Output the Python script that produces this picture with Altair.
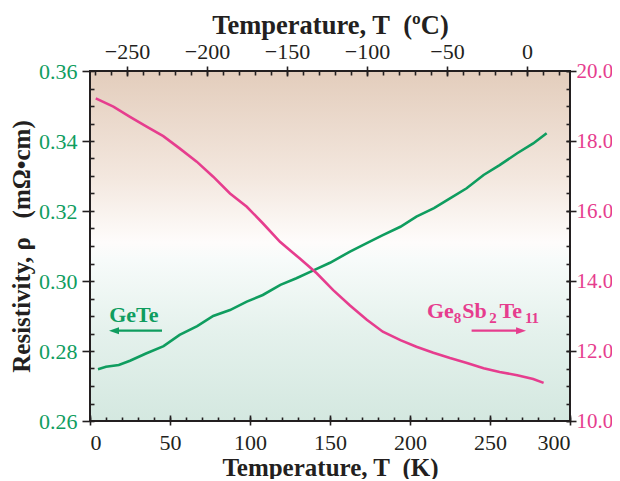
import altair as alt
import pandas as pd

# ---------------- data ----------------
kelvin_major = [0, 50, 100, 150, 200, 250, 300]
kelvin_minor = list(range(0, 301, 10))
celsius_major = [-250, -200, -150, -100, -50, 0]
celsius_minor = list(range(-270, 21, 10))
left_major = [0.26, 0.28, 0.30, 0.32, 0.34, 0.36]
left_minor = [round(0.26 + 0.005 * i, 3) for i in range(21)]
right_major = [10.0, 12.0, 14.0, 16.0, 18.0, 20.0]
right_minor = [round(10 + 0.5 * i, 1) for i in range(21)]

green_K = [5, 10, 18, 25, 35, 46, 56, 67, 77, 87.5, 98, 108, 119, 129, 140,
           150, 162.5, 173, 183, 194, 204, 215, 225, 235.4, 246, 256, 267, 277, 285.4]
green_rho = [0.2748, 0.2755, 0.2760, 0.2772, 0.2793, 0.2814, 0.2846, 0.2871, 0.2900,
             0.2917, 0.2941, 0.2960, 0.2989, 0.3008, 0.3031, 0.3052, 0.3084, 0.3108,
             0.3131, 0.3155, 0.3184, 0.3208, 0.3236, 0.3265, 0.3303, 0.3331, 0.3365,
             0.3393, 0.3422]

pink_K = [3.6, 14.6, 25, 35.4, 45.8, 56, 66.7, 77, 87.5, 98, 108, 118.75, 127, 131.5,
          141.7, 152, 162.5, 173, 183, 194, 204, 214.6, 225, 235.6, 246, 256, 267, 277, 283.5]
pink_rho = [19.22, 18.98, 18.69, 18.41, 18.14, 17.79, 17.41, 16.98, 16.50, 16.12, 15.65,
            15.12, 14.80, 14.63, 14.22, 13.74, 13.30, 12.89, 12.55, 12.31, 12.12, 11.95,
            11.80, 11.66, 11.51, 11.40, 11.31, 11.20, 11.09]

label_text = ["GeTe", "Ge", "8", "Sb", "2", "Te", "11"]
label_K = [12.0, 210.6, 227.3, 232.6, 249.6, 256.0, 271.8]
label_rho = [0.2884, 0.2894, 0.2879, 0.2894, 0.2879, 0.2894, 0.2879]
label_size = [22, 22, 15, 22, 15, 22, 15]
label_color = ["#0f9d5f", "#e63d8e", "#e63d8e", "#e63d8e", "#e63d8e", "#e63d8e", "#e63d8e"]

arrow_K1 = [15.0, 238.5]
arrow_K2 = [45.0, 269.4]
arrow_rho = [0.2858, 0.2858]
arrow_color = ["#0f9d5f", "#e63d8e"]
arrow_shape = ["M -1 0 L 1 -0.7 L 1 0.7 Z", "M 1 0 L -1 -0.7 L -1 0.7 Z"]
arrow_tip_K = [15.0, 269.4]

GREEN = "#0f9d5f"
PINK = "#e63d8e"
INK = "#231f20"
FONT = "Liberation Serif, Times New Roman, Times, serif"

xK = alt.Scale(domain=[0, 300], nice=False, zero=False)
yL = alt.Scale(domain=[0.26, 0.36], nice=False, zero=False)
yR = alt.Scale(domain=[10, 20], nice=False, zero=False)
xC = alt.Scale(domain=[-273.15, 26.85], nice=False, zero=False)

base_axis = dict(grid=False, domain=False, zindex=1, tickColor=INK, tickWidth=1.6,
                 labelFont=FONT, titleFont=FONT,
                 titleFontWeight="bold", titleColor=INK)


def minor_axis(orient, values, inner):
    return alt.Axis(orient=orient, values=values, offset=-inner, tickSize=inner,
                    labels=False, title=None, **base_axis)


def x_axis_layer(values, scale, axis):
    df = pd.DataFrame({"v": values})
    return alt.Chart(df).mark_rule(opacity=0).encode(
        x=alt.X("v:Q", scale=scale, axis=axis))


def y_axis_layer(values, scale, axis):
    df = pd.DataFrame({"v": values})
    return alt.Chart(df).mark_rule(opacity=0).encode(
        y=alt.Y("v:Q", scale=scale, axis=axis))


bottom_major = alt.Axis(orient="bottom", values=kelvin_major, offset=-6, tickSize=10,
                        format="d", labelColor=INK, labelPadding=7, labelFontSize=22,
                        title="Temperature, T\u00a0 (K)", titleFontSize=25, titlePadding=2,
                        **base_axis)
top_major = alt.Axis(orient="top", values=celsius_major, offset=-5, tickSize=10,
                     format="d", labelColor=INK, labelPadding=3, labelFontSize=22,
                     title="Temperature, T\u00a0 (ºC)", titleFontSize=26.5, titlePadding=1,
                     **base_axis)
left_major_ax = alt.Axis(orient="left", values=left_major, offset=0, tickSize=8,
                         format=".2f", labelColor=GREEN, labelPadding=5, labelFontSize=22,
                         title="Resistivity, \u03c1\u00a0\u00a0 (m\u03a9\u2022cm)",
                         titleFontSize=25, titlePadding=4, **base_axis)
right_major_ax = alt.Axis(orient="right", values=right_major, offset=-4, tickSize=10,
                          format=".1f", labelColor=PINK, labelPadding=0, labelFontSize=21,
                          title=None, **base_axis)

# background with gradient
bg_df = pd.DataFrame({"x0": [0], "x1": [300], "y0": [0.26], "y1": [0.36]})
gradient = alt.Gradient(
    gradient="linear", x1=0, x2=0, y1=0, y2=1,
    stops=[alt.GradientStop(color="#e3cdbc", offset=0),
           alt.GradientStop(color="#f3e7de", offset=0.3),
           alt.GradientStop(color="#fefcfb", offset=0.49),
           alt.GradientStop(color="#f7fbfa", offset=0.54),
           alt.GradientStop(color="#e4f1ec", offset=0.75),
           alt.GradientStop(color="#d4e8e0", offset=1)])
bg = alt.Chart(bg_df).mark_rect(fill=gradient, stroke=INK, strokeWidth=2).encode(
    x=alt.X("x0:Q", scale=xK, axis=None),
    x2="x1:Q",
    y=alt.Y("y0:Q", scale=yL, axis=None),
    y2="y1:Q",
)

green_df = pd.DataFrame({"K": green_K, "rho": green_rho})
green = alt.Chart(green_df).mark_line(color=GREEN, strokeWidth=2.6).encode(
    x=alt.X("K:Q", scale=xK, axis=None),
    y=alt.Y("rho:Q", scale=yL, axis=None),
)

pink_df = pd.DataFrame({"K": pink_K, "rho": pink_rho})
pink = alt.Chart(pink_df).mark_line(color=PINK, strokeWidth=2.6).encode(
    x=alt.X("K:Q", scale=xK, axis=None),
    y=alt.Y("rho:Q", scale=yR, axis=None),
)

axis_layers = [
    x_axis_layer(kelvin_major, xK, bottom_major),
    x_axis_layer(kelvin_minor, xK, minor_axis("bottom", kelvin_minor, 4)),
    x_axis_layer(celsius_major, xC, top_major),
    x_axis_layer(celsius_minor, xC, minor_axis("top", celsius_minor, 4)),
    y_axis_layer(left_major, yL, left_major_ax),
    y_axis_layer(left_minor, yL, minor_axis("left", left_minor, 4)),
    y_axis_layer(right_major, yR, right_major_ax),
    y_axis_layer(right_minor, yR, minor_axis("right", right_minor, 4)),
]

lab_df = pd.DataFrame({"t": label_text, "K": label_K, "rho": label_rho,
                       "s": label_size, "c": label_color})
labels = alt.Chart(lab_df).mark_text(align="left", baseline="alphabetic", font=FONT,
                                     fontWeight="bold").encode(
    x=alt.X("K:Q", scale=xK, axis=None),
    y=alt.Y("rho:Q", scale=yL, axis=None),
    text="t:N",
    size=alt.Size("s:Q", scale=None, legend=None),
    color=alt.Color("c:N", scale=None, legend=None),
)

arr_df = pd.DataFrame({"K1": arrow_K1, "K2": arrow_K2, "rho": arrow_rho,
                       "c": arrow_color, "shape": arrow_shape, "tip": arrow_tip_K})
shafts = alt.Chart(arr_df).mark_rule(strokeWidth=2.2).encode(
    x=alt.X("K1:Q", scale=xK, axis=None),
    x2="K2:Q",
    y=alt.Y("rho:Q", scale=yL, axis=None),
    color=alt.Color("c:N", scale=None, legend=None),
)
heads = alt.Chart(arr_df).mark_point(filled=True, size=100, opacity=1, strokeWidth=0).encode(
    x=alt.X("tip:Q", scale=xK, axis=None),
    y=alt.Y("rho:Q", scale=yL, axis=None),
    shape=alt.Shape("shape:N", scale=None, legend=None),
    color=alt.Color("c:N", scale=None, legend=None),
)

chart = alt.layer(bg, green, pink, *axis_layers, shafts, heads, labels).resolve_scale(
    x="independent", y="independent"
).properties(
    width=480, height=350,
    padding={"left": 82, "top": 63, "right": 42, "bottom": 58},
    autosize=alt.AutoSizeParams(type="none"),
    background="white",
).configure_view(stroke=None)

chart.save("out.html", embed_options={"renderer": "svg", "actions": False})
